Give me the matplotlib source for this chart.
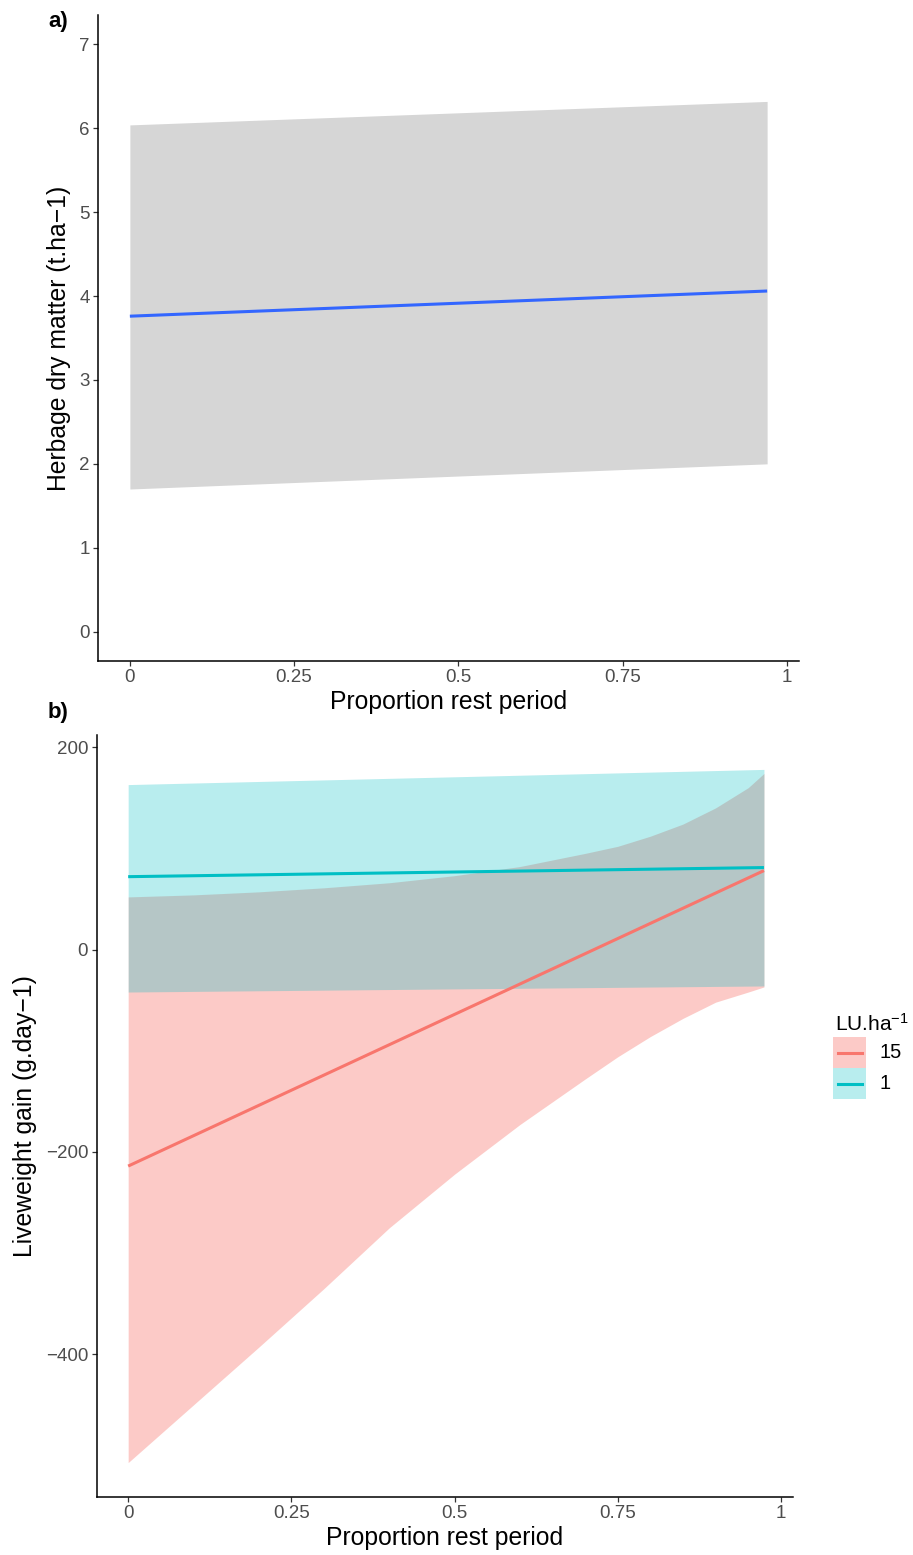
import numpy as np
import matplotlib
matplotlib.use("Agg")
from matplotlib import pyplot as plt
from matplotlib.patches import Rectangle
from matplotlib.lines import Line2D

plt.rcParams['font.family'] = ['Liberation Sans', 'DejaVu Sans']
plt.rcParams['mathtext.default'] = 'regular'

# a) herbage dry matter vs proportion of rest period
herb_x = [0.0, 0.97]
herb_fit = [3.76, 4.06]
herb_lo = [1.70, 2.00]
herb_hi = [6.04, 6.32]

# b) liveweight gain, two stocking rates
fit_x = [0.0, 0.974]
lw15_fit = [-214, 78]
lw1_fit = [72, 81]

band_x = [0.0, 0.1, 0.2, 0.3, 0.4, 0.5, 0.6, 0.7, 0.75, 0.8, 0.85, 0.9, 0.95, 0.974]
lw15_lo = [-507, -450, -393, -335, -275, -222, -173, -128, -106, -86, -68, -52, -42, -37]
lw15_hi = [52, 54, 57, 61, 66, 73, 82, 95, 102, 112, 124, 140, 160, 174]
lw1_lo = [-42, -36]
lw1_hi = [163, 178]

legend_labels = ["15", "1"]
red = "#F8766D"
cyan = "#00BFC4"

fig = plt.figure(figsize=(9.13, 15.55), dpi=100)
W, H = 913, 1555

def style_axes(ax):
    for s in ["top", "right"]:
        ax.spines[s].set_visible(False)
    for s in ["left", "bottom"]:
        ax.spines[s].set_linewidth(1.1)
        ax.spines[s].set_color("black")
    ax.tick_params(length=3.5, width=0.9, color="#333333", labelcolor="#4D4D4D",
                   labelsize=13.5, pad=2.5)
    ax.set_xticks([0, 0.25, 0.5, 0.75, 1])
    ax.set_xticklabels(["0", "0.25", "0.5", "0.75", "1"])

# panel a
ax1 = fig.add_axes([98 / W, 1 - 661 / H, (799 - 98) / W, (661 - 15) / H])
ax1.fill_between(herb_x, herb_lo, herb_hi, color="#999999", alpha=0.4, linewidth=0)
ax1.plot(herb_x, herb_fit, color="#3366FF", lw=2.2, solid_capstyle="butt")
ax1.set_xlim(-0.0485, 1.0185)
ax1.set_ylim(-0.35, 7.35)
ax1.set_yticks(range(0, 8))
style_axes(ax1)
ax1.set_xlabel("Proportion rest period", fontsize=17.8, labelpad=3)
ax1.set_ylabel("Herbage dry matter (t.ha\u22121)", fontsize=17.8, labelpad=6)
fig.text(48 / W, 1 - 21 / H, "a)", fontsize=16, fontweight="bold", va="center")

# panel b
ax2 = fig.add_axes([96.5 / W, 1 - 1497 / H, (793 - 96.5) / W, (1497 - 735) / H])
ax2.fill_between(band_x, lw15_lo, lw15_hi, color=red, alpha=0.38, linewidth=0)
ax2.plot(fit_x, lw15_fit, color=red, lw=2.2, solid_capstyle="butt")
ax2.fill_between(fit_x, lw1_lo, lw1_hi, color=cyan, alpha=0.28, linewidth=0)
ax2.plot(fit_x, lw1_fit, color=cyan, lw=2.2, solid_capstyle="butt")
ax2.set_xlim(-0.0485, 1.0185)
ax2.set_ylim(-541, 212)
ax2.set_yticks([200, 0, -200, -400])
style_axes(ax2)
ax2.set_xlabel("Proportion rest period", fontsize=17.8, labelpad=3)
ax2.set_ylabel("Liveweight gain (g.day\u22121)", fontsize=17.8, labelpad=6)
fig.text(48 / W, 1 - 713 / H, "b)", fontsize=16, fontweight="bold", va="center")

# legend drawn in figure pixels
fig.text(835 / W, 1 - 1024 / H, "LU.ha$^{-1}$", fontsize=15, va="center", color="black")
for i, (lab, col, a) in enumerate(zip(legend_labels, [red, cyan], [0.38, 0.28])):
    y0 = 1037 + i * 31
    fig.patches.append(Rectangle((833 / W, 1 - (y0 + 31) / H), 33 / W, 31 / H,
                                 transform=fig.transFigure, facecolor=col, alpha=a,
                                 edgecolor="none"))
    fig.lines.append(Line2D([838 / W, 862 / W], [1 - (y0 + 15.5) / H] * 2,
                            transform=fig.transFigure, color=col, lw=2.2))
    fig.text(879 / W, 1 - (y0 + 15.5) / H, lab, fontsize=14.5, va="center", color="black")

fig.savefig("out.png", dpi=100)
